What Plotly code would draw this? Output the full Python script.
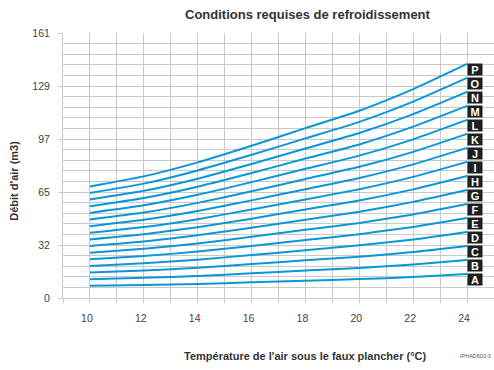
import plotly.graph_objects as go

temps = [10, 12, 14, 16, 18, 20, 22, 24]
letters = ["A", "B", "C", "D", "E", "F", "G", "H", "I", "J", "K", "L", "M", "N", "O", "P"]
A = [7.4, 7.9, 8.5, 9.5, 10.5, 11.5, 12.7, 14.6]
B = [11.4, 12.3, 13.4, 15.0, 16.7, 18.3, 20.3, 23.1]
C = [15.5, 16.7, 18.4, 20.6, 22.9, 25.1, 27.9, 31.6]
D = [19.5, 21.1, 23.3, 26.1, 29.0, 32.0, 35.5, 40.1]
E = [23.5, 25.5, 28.2, 31.6, 35.2, 38.8, 43.2, 48.6]
F = [27.5, 29.9, 33.1, 37.2, 41.4, 45.6, 50.8, 57.1]
G = [31.6, 34.3, 38.1, 42.7, 47.6, 52.4, 58.4, 65.6]
H = [35.6, 38.7, 43.0, 48.2, 53.8, 59.2, 66.0, 74.1]
I = [39.6, 43.1, 47.9, 53.8, 59.9, 66.1, 73.6, 82.7]
J = [43.6, 47.5, 52.8, 59.3, 66.1, 72.9, 81.2, 91.2]
K = [47.7, 51.9, 57.8, 64.8, 72.3, 79.7, 88.8, 99.7]
L = [51.7, 56.3, 62.7, 70.4, 78.5, 86.5, 96.4, 108.2]
M = [55.7, 60.7, 67.6, 75.9, 84.7, 93.3, 104.1, 116.7]
N = [59.8, 65.1, 72.5, 81.4, 90.8, 100.2, 111.7, 125.2]
O = [63.8, 69.5, 77.5, 87.0, 97.0, 107.0, 119.3, 133.7]
P = [67.8, 73.9, 82.4, 92.5, 103.2, 113.8, 126.9, 142.2]
series = [A, B, C, D, E, F, G, H, I, J, K, L, M, N, O, P]

y_tickvals = [0, 32.2, 64.4, 96.6, 128.8, 161]
y_ticktext = ["0", "32", "65", "97", "129", "161"]
x_tickvals = [10, 12, 14, 16, 18, 20, 22, 24]

title = "Conditions requises de refroidissement"
x_title = "Température de l'air sous le faux plancher (°C)"
y_title = "Débit d'air (m3)"
ref_code = "IPHAD600-3"

FONT = "Liberation Sans, Arial, sans-serif"
BLUE = "#0b97d7"
GRID = "#c9c9c9"

fig = go.Figure()
for name, vals in zip(letters, series):
    fig.add_trace(go.Scatter(
        x=temps, y=vals, mode="lines", name=name,
        line=dict(color=BLUE, width=2, shape="spline", smoothing=0.5),
        showlegend=False, hoverinfo="x+y+name",
    ))
    fig.add_annotation(
        x=temps[-1], y=vals[-1], xref="x", yref="y",
        text="<b>%s</b>" % name, showarrow=False,
        xanchor="left", yanchor="top", xshift=0, yshift=1,
        bgcolor="#1e1e1e", borderpad=1, width=12, height=9,
        font=dict(family=FONT, size=11, color="white"),
    )

PL, PT, PW, PH = 63, 33, 431, 265.5


def px(xp):
    return (xp - PL) / PW


def py(yp):
    return (PT + PH - yp) / PH


fig.add_annotation(text="<b>%s</b>" % title, xref="paper", yref="paper",
                   x=px(308), y=py(14),
                   showarrow=False, xanchor="center", yanchor="middle",
                   font=dict(family=FONT, size=13, color="#333333"))
fig.add_annotation(text="<b>%s</b>" % x_title, xref="paper", yref="paper",
                   x=px(304.5), y=py(357),
                   showarrow=False, xanchor="center", yanchor="middle",
                   font=dict(family=FONT, size=11, color="#333333"))
fig.add_annotation(text="<b>%s</b>" % y_title, xref="paper", yref="paper",
                   x=px(14), y=py(181), textangle=-90,
                   showarrow=False, xanchor="center", yanchor="middle",
                   font=dict(family=FONT, size=11, color="#333333"))
fig.add_annotation(text=ref_code, xref="paper", yref="paper",
                   x=px(458), y=py(357),
                   showarrow=False, xanchor="left", yanchor="middle",
                   font=dict(family=FONT, size=5.5, color="#555555"))

fig.update_layout(
    width=494, height=370,
    margin=dict(l=PL, r=0, t=PT, b=370 - PT - PH),
    paper_bgcolor="white", plot_bgcolor="white",
    font=dict(family=FONT, size=10.5, color="#444444"),
    xaxis=dict(
        range=[9, 25], tickmode="array", tickvals=x_tickvals,
        ticks="outside", ticklen=4, tickcolor=GRID,
        showgrid=True, gridcolor=GRID, gridwidth=1,
        showline=True, linecolor=GRID, zeroline=False,
        ticklabelshift=-3, ticklabelstandoff=6,
        minor=dict(dtick=1, tick0=9, showgrid=True, gridcolor=GRID,
                   ticks="outside", ticklen=4, tickcolor=GRID),
        tickfont=dict(family=FONT, size=10.5, color="#444444"),
        fixedrange=True,
    ),
    yaxis=dict(
        range=[0, 161], tickmode="array", tickvals=y_tickvals, ticktext=y_ticktext,
        ticks="outside", ticklen=4, tickcolor=GRID,
        showgrid=True, gridcolor=GRID, gridwidth=1,
        showline=True, linecolor=GRID, zeroline=False,
        ticklabelstandoff=6,
        minor=dict(dtick=6.44, tick0=0, showgrid=True, gridcolor=GRID),
        tickfont=dict(family=FONT, size=10.5, color="#444444"),
        fixedrange=True,
    ),
)

fig.write_html("out.html", config={"displayModeBar": False},
               post_script="document.body.style.margin='0';document.body.style.overflow='hidden';")
